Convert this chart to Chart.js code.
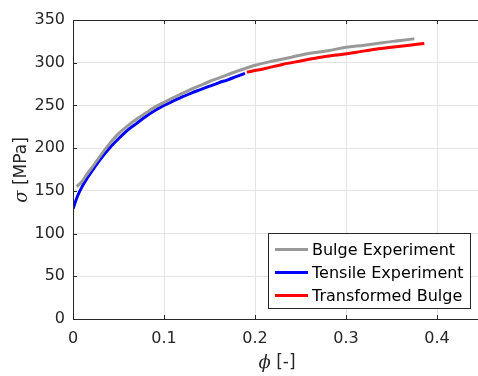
<!DOCTYPE html>
<html>
<head>
<meta charset="utf-8">
<script src="https://cdn.jsdelivr.net/npm/chart.js@4/dist/chart.umd.min.js"></script>
<style>
  html, body { margin: 0; padding: 0; background: #fff; }
  #wrap { position: relative; width: 478px; height: 376px; }
</style>
</head>
<body>
<div id="wrap"><canvas id="flowCurve"></canvas></div>
<script>
// flow curves (phi [-], sigma [MPa])
const bulgePhi   = [0.004, 0.01, 0.015, 0.02, 0.03, 0.04, 0.05, 0.06, 0.07, 0.08, 0.09, 0.10, 0.11, 0.12, 0.13, 0.14, 0.15, 0.16, 0.17, 0.18, 0.19, 0.20, 0.22, 0.24, 0.26, 0.28, 0.30, 0.32, 0.34, 0.36, 0.375];
const bulgeSigma = [155, 161, 169, 176, 191, 205, 217, 226, 234, 241, 248, 253.5, 259, 264, 269, 273.5, 278, 282, 286, 290, 293.5, 297, 302, 306.5, 311, 314, 318, 320.5, 323.5, 326, 328];

const tensilePhi   = [0, 0.005, 0.01, 0.015, 0.02, 0.03, 0.04, 0.05, 0.06, 0.07, 0.08, 0.09, 0.10, 0.11, 0.12, 0.13, 0.14, 0.15, 0.16, 0.17, 0.18, 0.189];
const tensileSigma = [129, 144, 155, 164, 172, 187, 200, 211, 221, 229, 237, 244, 250, 255, 260, 264.5, 268.5, 272.5, 276.5, 280, 284, 287.5];

const transPhi   = [0.191, 0.21, 0.23, 0.25, 0.27, 0.29, 0.31, 0.33, 0.35, 0.37, 0.386];
const transSigma = [289, 293, 298, 302, 306, 309, 312, 315.5, 318, 320.5, 322.5];

const xTicks = [0, 0.1, 0.2, 0.3, 0.4];
const yTicks = [0, 50, 100, 150, 200, 250, 300, 350];

const seriesLabels = ['Bulge Experiment', 'Tensile Experiment', 'Transformed Bulge'];
const seriesColors = ['#999999', '#0000ff', '#ff0000'];

const toPoints = (xs, ys) => xs.map((x, i) => ({ x: x, y: ys[i] }));

const axisColor = '#262626';
const sans = '"DejaVu Sans", Verdana, sans-serif';

// inward ticks, box outline, axis titles and the in-plot legend
const matlabLook = {
  id: 'matlabLook',
  afterDatasetsDraw(chart) {
    const { ctx, chartArea: a, scales: { x, y } } = chart;
    ctx.save();
    ctx.strokeStyle = axisColor;
    ctx.lineWidth = 1;
    ctx.beginPath();
    // box
    ctx.moveTo(a.left + 0.5, a.bottom + 0.5);
    ctx.lineTo(a.left + 0.5, a.top + 0.5);
    ctx.lineTo(a.right, a.top + 0.5);
    ctx.moveTo(a.left + 0.5, a.bottom + 0.5);
    ctx.lineTo(a.right, a.bottom + 0.5);
    // ticks pointing inward
    xTicks.forEach(v => {
      const px = Math.round(x.getPixelForValue(v)) + 0.5;
      ctx.moveTo(px, a.bottom); ctx.lineTo(px, a.bottom - 4);
      ctx.moveTo(px, a.top); ctx.lineTo(px, a.top + 4);
    });
    yTicks.forEach(v => {
      const py = Math.round(y.getPixelForValue(v)) + 0.5;
      ctx.moveTo(a.left, py); ctx.lineTo(a.left + 4, py);
    });
    ctx.stroke();

    // axis titles with italic symbols
    ctx.fillStyle = axisColor;
    ctx.textBaseline = 'middle';
    const drawMixed = (parts, cx, cy) => {
      let w = 0;
      parts.forEach(p => { ctx.font = p.font; w += ctx.measureText(p.t).width; });
      let px = cx - w / 2;
      ctx.textAlign = 'left';
      parts.forEach(p => { ctx.font = p.font; ctx.fillText(p.t, px, cy); px += ctx.measureText(p.t).width; });
    };
    const ital = 'italic 18px "DejaVu Serif", serif';
    const reg = '17px ' + sans;
    drawMixed([{ t: '\u03d5', font: ital }, { t: ' [-]', font: reg }], 277, 363);
    ctx.save();
    ctx.translate(22, 170);
    ctx.rotate(-Math.PI / 2);
    drawMixed([{ t: '\u03c3', font: ital }, { t: ' [MPa]', font: reg }], 0, 0);
    ctx.restore();

    // legend box
    const lx = 268.5, ly = 233.5, lw = 202, lh = 75;
    ctx.fillStyle = '#fff';
    ctx.fillRect(lx, ly, lw, lh);
    ctx.strokeStyle = axisColor;
    ctx.strokeRect(lx, ly, lw, lh);
    ctx.font = '16px ' + sans;
    ctx.textAlign = 'left';
    seriesLabels.forEach((lab, i) => {
      const ry = 249.5 + i * 23;
      ctx.strokeStyle = seriesColors[i];
      ctx.lineWidth = 3;
      ctx.beginPath();
      ctx.moveTo(275, ry); ctx.lineTo(308, ry);
      ctx.stroke();
      ctx.fillStyle = '#000';
      ctx.fillText(lab, 312, ry + 1);
    });
    ctx.restore();
  }
};

new Chart(document.getElementById('flowCurve'), {
  type: 'scatter',
  data: {
    datasets: [
      { label: seriesLabels[0], data: toPoints(bulgePhi, bulgeSigma), borderColor: seriesColors[0] },
      { label: seriesLabels[1], data: toPoints(tensilePhi, tensileSigma), borderColor: seriesColors[1] },
      { label: seriesLabels[2], data: toPoints(transPhi, transSigma), borderColor: seriesColors[2] }
    ].map(d => Object.assign(d, { showLine: true, borderWidth: 3, pointRadius: 0, cubicInterpolationMode: 'monotone', fill: false }))
  },
  options: {
    responsive: true,
    maintainAspectRatio: false,
    animation: false,
    layout: { padding: { top: 20, right: 0, left: 0, bottom: 0 } },
    plugins: { legend: { display: false }, tooltip: { enabled: false } },
    scales: {
      x: {
        type: 'linear', min: 0, max: 0.445,
        afterBuildTicks: s => { s.ticks = xTicks.map(v => ({ value: v })); },
        afterFit: s => { s.height = 57; },
        grid: { color: '#e4e4e4', tickLength: 0, drawTicks: false },
        border: { display: false },
        ticks: { color: axisColor, font: { family: sans, size: 16 }, padding: 10, maxRotation: 0,
                 callback: v => String(v) }
      },
      y: {
        type: 'linear', min: 0, max: 350,
        afterBuildTicks: s => { s.ticks = yTicks.map(v => ({ value: v })); },
        afterFit: s => { s.width = 73; },
        grid: { color: '#e4e4e4', drawTicks: false },
        border: { display: false },
        ticks: { color: axisColor, font: { family: sans, size: 16 }, padding: 8 }
      }
    }
  },
  plugins: [matlabLook]
});
</script>
</body>
</html>
